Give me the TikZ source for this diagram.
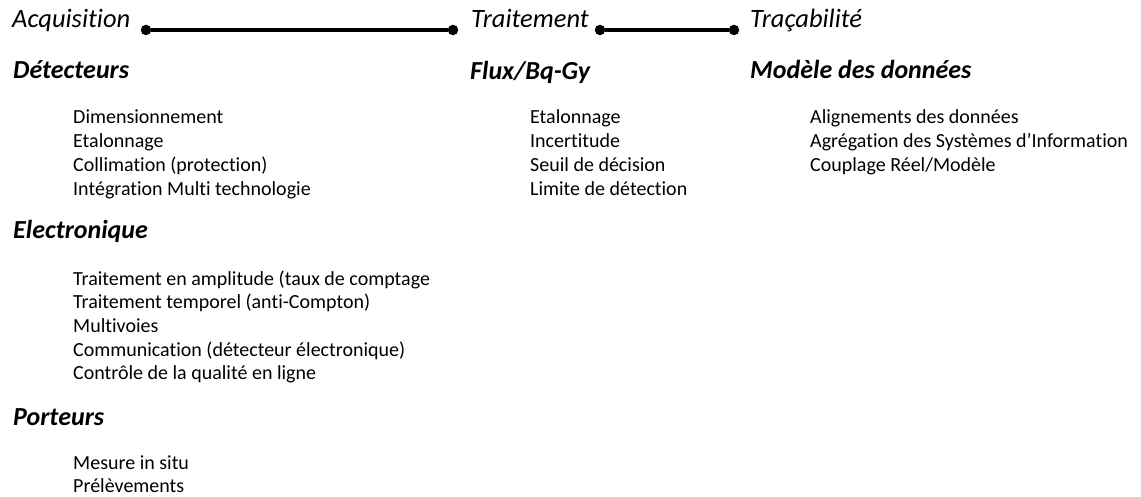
\documentclass[tikz,border=0pt]{standalone}
\usepackage{fontspec}
\setmainfont{Carlito}[Ligatures=NoCommon]
\begin{document}
\begin{tikzpicture}[x=1pt,y=-1pt,
  phase/.style={anchor=base west, inner sep=0pt, font=\fontsize{26.5}{31}\selectfont\itshape},
  sect/.style={anchor=base west, inner sep=0pt, font=\fontsize{26}{30}\selectfont\bfseries\itshape},
  item/.style={anchor=base west, inner sep=0pt, font=\fontsize{20}{24}\selectfont},
  knot/.style={circle, fill=black, inner sep=0pt, minimum size=10.5pt},
  link/.style={line width=3.5pt}]
\useasboundingbox (0,0) rectangle (1141,497);

% timeline
\node[phase] (acq) at (12,28) {Acquisition};
\node[phase] (trt) at (471,28) {Traitement};
\node[phase] (tra) at (750,28) {Traçabilité};
\node[knot] (d1) at (146,30) {};
\node[knot] (d2) at (453,30) {};
\node[knot] (d3) at (600,30) {};
\node[knot] (d4) at (734,30) {};
\draw[link] (d1) -- (d2);
\draw[link] (d3) -- (d4);

% Acquisition column
\node[sect] (det) at (13,79) {Détecteurs};
\node[item] (det1) at (73,124) {Dimensionnement};
\node[item] (det2) at (73,148) {Etalonnage};
\node[item] (det3) at (73,172) {Collimation (protection)};
\node[item] (det4) at (73,196) {Intégration Multi technologie};

\node[sect] (ele) at (13,239) {Electronique};
\node[item] (ele1) at (73,285) {Traitement en amplitude (taux de comptage};
\node[item] (ele2) at (73,308.7) {Traitement temporel (anti-Compton)};
\node[item] (ele3) at (73,332.4) {Multivoies};
\node[item] (ele4) at (73,356.1) {Communication (détecteur électronique)};
\node[item] (ele5) at (73,379.8) {Contrôle de la qualité en ligne};

\node[sect] (por) at (13,425) {Porteurs};
\node[item] (por1) at (73,469) {Mesure in situ};
\node[item] (por2) at (73,492) {Prélèvements};

% Traitement column
\node[sect] (flx) at (470,80) {Flux/Bq-Gy};
\node[item] (flx1) at (530,124) {Etalonnage};
\node[item] (flx2) at (530,148) {Incertitude};
\node[item] (flx3) at (530,172) {Seuil de décision};
\node[item] (flx4) at (530,196) {Limite de détection};

% Tracabilite column
\node[sect] (mod) at (750,79) {Modèle des données};
\node[item] (mod1) at (810,124) {Alignements des données};
\node[item] (mod2) at (810,148) {Agrégation des Systèmes d’Information};
\node[item] (mod3) at (810,172) {Couplage Réel/Modèle};
\end{tikzpicture}
\end{document}
